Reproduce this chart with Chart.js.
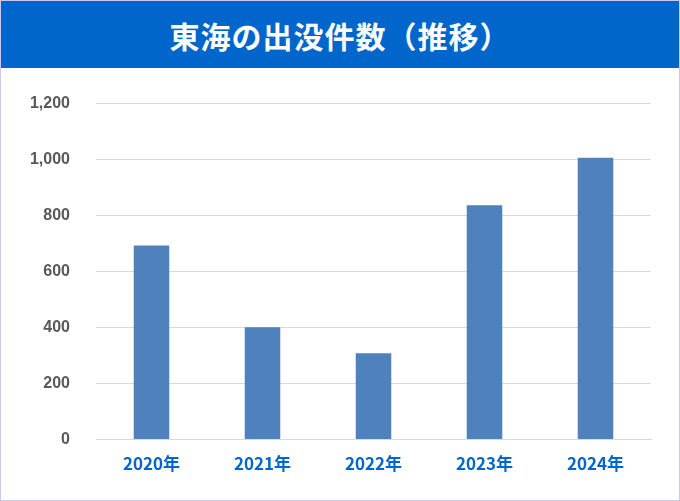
<!DOCTYPE html>
<html><head><meta charset="utf-8">
<script src="https://cdn.jsdelivr.net/npm/chart.js@4"></script>
<style>
html,body{margin:0;padding:0;background:#fff;}
#wrap{width:678px;height:499px;border:1px solid #c8c8f0;position:relative;}
#title{height:67px;background:#0066cc;color:#fff;font:bold 30px "Noto Sans CJK JP",sans-serif;display:flex;align-items:center;justify-content:center;letter-spacing:1px;}
#c{position:absolute;left:0;top:67px;}
</style></head><body>
<div id="wrap"><div id="title">東海の出没件数（推移）</div><canvas id="c" width="678" height="432"></canvas></div>
<script>
const categories=["2020年","2021年","2022年","2023年","2024年"];
const values=[693,401,308,837,1007];
new Chart(document.getElementById('c'),{
type:'bar',
data:{labels:categories,datasets:[{data:values,backgroundColor:'#4f81bd',categoryPercentage:1,barPercentage:0.32}]},
options:{responsive:false,animation:false,
layout:{padding:{left:20,right:28,top:22,bottom:20}},
plugins:{legend:{display:false},tooltip:{enabled:false}},
scales:{
x:{grid:{display:false},border:{color:'#d9d9d9'},ticks:{color:'#0066cc',font:{family:'"Noto Sans CJK JP",sans-serif',size:17,weight:'bold'},padding:6}},
y:{min:0,max:1200,afterFit:a=>{a.width=75;},border:{display:false},grid:{color:'#d9d9d9',drawTicks:false},ticks:{stepSize:200,color:'#595959',padding:26,font:{family:'Liberation Sans,sans-serif',size:16,weight:'bold'}}}
}}});
</script></body></html>
